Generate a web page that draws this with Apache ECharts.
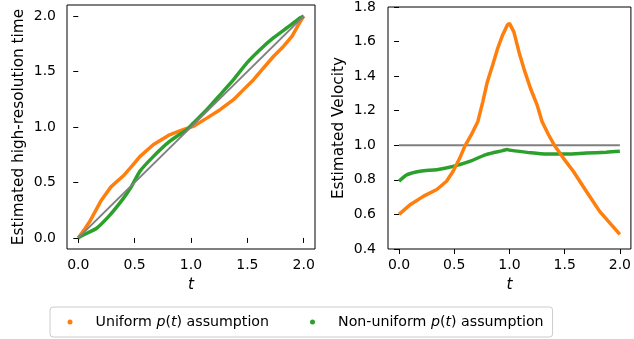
<!DOCTYPE html>
<html>
<head>
<meta charset="utf-8">
<script src="https://cdn.jsdelivr.net/npm/echarts@6/dist/echarts.min.js"></script>
<style>
html,body{margin:0;padding:0;background:#fff;}
#c{width:634px;height:339px;}
</style>
</head>
<body>
<div id="c"></div>
<script>
// ---- data ----
var tickValues = [0, 0.5, 1.0, 1.5, 2.0];
var velTicks = [0.4, 0.6, 0.8, 1.0, 1.2, 1.4, 1.6, 1.8];

var leftUniformT = [0, 0.05, 0.10, 0.205, 0.29, 0.40, 0.47, 0.546, 0.665, 0.81, 0.90, 0.93, 1.02, 1.14, 1.258, 1.377, 1.466, 1.555, 1.644, 1.733, 1.822, 1.897, 1.955, 2.0];
var leftUniformV = [0, 0.07, 0.145, 0.34, 0.46, 0.56, 0.64, 0.733, 0.84, 0.93, 0.965, 0.975, 1.005, 1.08, 1.156, 1.246, 1.337, 1.427, 1.533, 1.638, 1.729, 1.82, 1.925, 2.0];

var leftNonUniformT = [0, 0.04, 0.16, 0.28, 0.40, 0.47, 0.546, 0.665, 0.81, 0.96, 1.02, 1.14, 1.258, 1.377, 1.496, 1.614, 1.733, 1.852, 1.97, 2.0];
var leftNonUniformV = [0, 0.024, 0.085, 0.205, 0.356, 0.46, 0.6, 0.733, 0.87, 0.975, 1.035, 1.156, 1.29, 1.427, 1.578, 1.699, 1.805, 1.895, 1.985, 2.0];

var leftRefT = [0, 2];
var leftRefV = [0, 2];

var rightUniformT = [0, 0.104, 0.223, 0.342, 0.43, 0.49, 0.55, 0.595, 0.655, 0.714, 0.759, 0.80, 0.848, 0.893, 0.9375, 0.98, 1.0, 1.04, 1.086, 1.13, 1.19, 1.25, 1.295, 1.354, 1.413, 1.488, 1.578, 1.696, 1.815, 1.92, 2.0];
var rightUniformV = [0.60, 0.658, 0.706, 0.744, 0.792, 0.85, 0.926, 0.994, 1.061, 1.138, 1.253, 1.368, 1.464, 1.56, 1.637, 1.695, 1.705, 1.656, 1.54, 1.445, 1.33, 1.234, 1.138, 1.061, 0.994, 0.926, 0.85, 0.734, 0.619, 0.542, 0.485];

var rightNonUniformT = [0, 0.074, 0.19, 0.342, 0.49, 0.64, 0.788, 0.9375, 0.98, 1.0, 1.16, 1.34, 1.518, 1.696, 1.875, 2.0];
var rightNonUniformV = [0.792, 0.83, 0.85, 0.859, 0.878, 0.907, 0.946, 0.969, 0.975, 0.972, 0.959, 0.949, 0.949, 0.955, 0.96, 0.965];

var rightRefT = [0, 2];
var rightRefV = [1, 1];

var nameUniform = 'Uniform p(t) assumption';
var nameNonUniform = 'Non-uniform p(t) assumption';

// ---- helpers ----
function zip(a, b) { return a.map(function (v, i) { return [v, b[i]]; }); }
var FONT = 'DejaVu Sans';
var ORANGE = '#ff7f0e', GREEN = '#2ca02c', GRAY = '#808080';
var NAME_SIZE = 15.3, TICK_SIZE = 14;

function fmt(v) { return v.toFixed(1); }

function xAxisCfg(idx) {
  return {
    type: 'value', gridIndex: idx, min: -0.1, max: 2.1,
    name: 't', nameLocation: 'middle', nameGap: 29,
    nameTextStyle: { fontFamily: FONT, fontSize: NAME_SIZE, fontStyle: 'italic', color: '#000' },
    axisLine: { show: false },
    axisTick: { show: true, inside: false, length: 5, customValues: tickValues, lineStyle: { color: '#000', width: 1 } },
    axisLabel: { show: true, margin: 9, customValues: tickValues, fontFamily: FONT, fontSize: TICK_SIZE, color: '#000', formatter: fmt },
    splitLine: { show: false }
  };
}

var chart = echarts.init(document.getElementById('c'), null, { renderer: 'canvas' });
var lineW = 3.5;
var option = {
  animation: false,
  backgroundColor: '#fff',
  grid: [
    { left: 67, top: 5, width: 248, height: 244, show: true, borderColor: '#000', borderWidth: 1, backgroundColor: 'transparent' },
    { left: 388, top: 5, width: 247, height: 244, show: true, borderColor: '#000', borderWidth: 1, backgroundColor: 'transparent' }
  ],
  xAxis: [xAxisCfg(0), xAxisCfg(1)],
  yAxis: [
    {
      type: 'value', gridIndex: 0, min: -0.1, max: 2.1,
      name: 'Estimated high-resolution time', nameLocation: 'middle', nameGap: 40, nameRotate: 90,
      nameTextStyle: { fontFamily: FONT, fontSize: NAME_SIZE, color: '#000' },
      axisLine: { show: false },
      axisTick: { show: true, inside: false, length: 5, customValues: tickValues, lineStyle: { color: '#000', width: 1 } },
      axisLabel: { show: true, margin: 11, customValues: tickValues, fontFamily: FONT, fontSize: TICK_SIZE, color: '#000', formatter: fmt },
      splitLine: { show: false }
    },
    {
      type: 'value', gridIndex: 1, min: 0.4, max: 1.8,
      name: 'Estimated Velocity', nameLocation: 'middle', nameGap: 41, nameRotate: 90,
      nameTextStyle: { fontFamily: FONT, fontSize: NAME_SIZE, color: '#000' },
      axisLine: { show: false },
      axisTick: { show: true, inside: false, length: 5, customValues: velTicks, lineStyle: { color: '#000', width: 1 } },
      axisLabel: { show: true, margin: 12, customValues: velTicks, fontFamily: FONT, fontSize: TICK_SIZE, color: '#000', formatter: fmt },
      splitLine: { show: false }
    }
  ],
  legend: {
    left: 50, top: 307,
    data: [nameUniform, nameNonUniform],
    icon: 'circle', itemWidth: 5, itemHeight: 5, itemGap: 41,
    padding: [7, 9, 7, 17.5],
    borderColor: '#cccccc', borderWidth: 1, borderRadius: 3,
    backgroundColor: '#fff',
    selectedMode: false,
    formatter: function (name) {
      if (name === nameUniform) return '{s| }Uniform {i|p}({i|t}) assumption';
      return '{s| }Non-uniform {i|p}({i|t}) assumption';
    },
    textStyle: {
      fontFamily: FONT, fontSize: 14.2, color: '#000', lineHeight: 16,
      rich: {
        s: { width: 18, fontFamily: FONT, fontSize: 14.2, lineHeight: 16 },
        i: { fontStyle: 'italic', fontFamily: FONT, fontSize: 14.2, color: '#000', lineHeight: 16 }
      }
    }
  },
  series: [
    { name: nameUniform, type: 'line', xAxisIndex: 0, yAxisIndex: 0, data: zip(leftUniformT, leftUniformV),
      showSymbol: false, symbol: 'circle', itemStyle: { color: ORANGE }, lineStyle: { color: ORANGE, width: lineW }, smooth: false, z: 2 },
    { name: nameNonUniform, type: 'line', xAxisIndex: 0, yAxisIndex: 0, data: zip(leftNonUniformT, leftNonUniformV),
      showSymbol: false, symbol: 'circle', itemStyle: { color: GREEN }, lineStyle: { color: GREEN, width: lineW }, smooth: 0.15, z: 3 },
    { name: 'ref0', type: 'line', xAxisIndex: 0, yAxisIndex: 0, data: zip(leftRefT, leftRefV),
      showSymbol: false, lineStyle: { color: GRAY, width: 2 }, z: 4 },
    { name: 'ref1', type: 'line', xAxisIndex: 1, yAxisIndex: 1, data: zip(rightRefT, rightRefV),
      showSymbol: false, lineStyle: { color: GRAY, width: 2 }, z: 2 },
    { name: nameNonUniform, type: 'line', xAxisIndex: 1, yAxisIndex: 1, data: zip(rightNonUniformT, rightNonUniformV),
      showSymbol: false, symbol: 'circle', itemStyle: { color: GREEN }, lineStyle: { color: GREEN, width: lineW }, smooth: 0.3, z: 3 },
    { name: nameUniform, type: 'line', xAxisIndex: 1, yAxisIndex: 1, data: zip(rightUniformT, rightUniformV),
      showSymbol: false, symbol: 'circle', itemStyle: { color: ORANGE }, lineStyle: { color: ORANGE, width: lineW }, smooth: false, z: 4 }
  ]
};
chart.setOption(option);
</script>
</body>
</html>
